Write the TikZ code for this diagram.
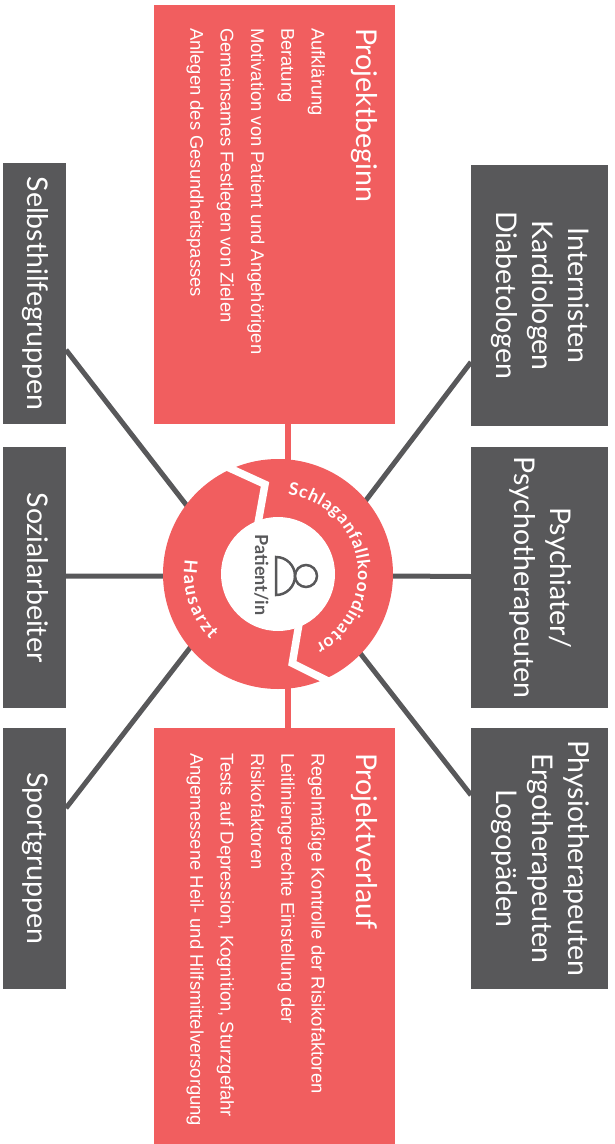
\documentclass[tikz,border=0pt]{standalone}
\usepackage{graphicx}
\usepackage{fontspec}
\setmainfont{Liberation Sans}
\newfontfamily\headfont{Lato}
\usepackage{tikz}
\usetikzlibrary{positioning,calc,backgrounds,decorations.text}
\definecolor{kored}{HTML}{F15E5F}
\definecolor{kogray}{HTML}{58585A}
\tikzstyle{redbox} = [rectangle,fill=kored,text=white,inner sep=0pt,outer sep=0pt,minimum width=241pt]
\tikzstyle{graybox} = [rectangle,fill=kogray,text=white,inner sep=0pt,outer sep=0pt,minimum height=261pt,font=\headfont\fontsize{28.5}{36}\selectfont]
\tikzstyle{link} = [draw=kogray,line width=5pt,shorten >=-3pt]
\tikzstyle{redlink} = [draw=kored,line width=6pt,shorten >=-3pt]
\tikzstyle{gapline} = [draw=white,line width=7.5pt,miter limit=10]
\newcommand{\turned}[1]{\rotatebox[origin=c]{-90}{\begin{tabular}{@{}c@{}}#1\end{tabular}}}
\begin{document}
\begin{tikzpicture}[x=1pt,y=1pt,auto,node distance=20pt]
    \useasboundingbox (0,0) rectangle (614,-1144);
    \node[graybox,minimum width=63pt,anchor=north west] (selbst) at (3,-163) {\turned{Selbsthilfegruppen}};
    \node[graybox,minimum width=63pt] (sozial) [below = 23pt of selbst] {\turned{Sozialarbeiter}};
    \node[graybox,minimum width=63pt] (sport) [below = of sozial] {\turned{Sportgruppen}};
    \node[graybox,minimum width=137pt,anchor=north west] (intern) at (471,-165) {\turned{Internisten\\Kardiologen\\Diabetologen}};
    \node[graybox,minimum width=137pt] (psych) [below = 21pt of intern] {\turned{Psychiater/\\Psychotherapeuten}};
    \node[graybox,minimum width=137pt] (physio) [below = of psych] {\turned{Physiotherapeuten\\Ergotherapeuten\\Logopäden}};
    \node[redbox,minimum height=419pt,anchor=north west] (beginn) at (154,-5) {\rotatebox{-90}{\parbox[c][241pt][t]{419pt}{\raggedright\leftskip=23pt
        \vspace*{17pt}{\headfont\fontsize{28.6}{30}\selectfont Projektbeginn\par}
        \fontsize{18.4}{30.3}\selectfont\vspace{15pt}
        Aufklärung\par Beratung\par Motivation von Patient und Angehörigen\par Gemeinsames Festlegen von Zielen\par Anlegen des Gesundheitspasses}}};
    \node[redbox,minimum height=416pt,anchor=north west] (verlauf) at (154,-728) {\rotatebox{-90}{\parbox[c][241pt][t]{416pt}{\raggedright\leftskip=25pt
        \vspace*{17pt}{\headfont\fontsize{28.6}{30}\selectfont Projektverlauf\par}
        \fontsize{18.4}{30.3}\selectfont\vspace{15pt}
        Regelmäßige Kontrolle der Risikofaktoren\par Leitliniengerechte Einstellung der\par Risikofaktoren\par Tests auf Depression, Kognition, Sturzgefahr\par Angemessene Heil- und Hilfsmittelversorgung}}};
    \node[circle,fill=kored,minimum size=230pt,inner sep=0pt,outer sep=0pt] (hub) at (278,-574) {};
    % gaps between the two ring parts
    \draw[gapline] (225,-466) -- (265,-484.3) -- (257.7,-525);
    \draw[gapline] (331,-682.5) -- (292.3,-663.3) -- (299.3,-622);
    \node[circle,fill=white,minimum size=114pt,inner sep=0pt,outer sep=0pt] (patient) at (hub.center) {};
    \path[decorate,decoration={text along path,text align={fit to path},text={|\headfont\bfseries\fontsize{17.5}{17.5}\selectfont\color{white}|Schlaganfallkoordinator}}] (hub.center) ++(83:80) arc (83:-62:80);
    \path[decorate,decoration={text along path,text align={fit to path},text={|\headfont\bfseries\fontsize{18}{18}\selectfont\color{white}|Hausarzt}}] (hub.center) ++(171:94) arc (171:224:94);
    \node[text=kogray,font=\headfont\bfseries\fontsize{18}{18}\selectfont,inner sep=0pt] (ptext) at (259,-575) {\turned{Patient/in}};
    \draw[kogray,line width=2.5pt] (306,-576) circle (11);
    \draw[kogray,line width=2.5pt] (276,-557) arc (90:-90:19) -- cycle;
    \begin{scope}[on background layer]
        \path [redlink] (beginn.south -| hub.85.5) -- (hub.85.5);
        \path [redlink] (verlauf.north -| hub.-85.5) -- (hub.-85.5);
        \path [link] ($(selbst.north east)!0.716!(selbst.south east)$) -- (hub.143);
        \path [link] ($(sozial.east)+(0,1.5)$) -- (hub.181);
        \path [link] ($(sport.north east)!0.307!(sport.south east)$) -- (hub.220);
        \path [link] ($(intern.north west)!0.755!(intern.south west)$) -- (hub.40);
        \path [link] ($(psych.west)+(0,1)$) -- (hub.-1);
        \path [link] ($(physio.north west)!0.257!(physio.south west)$) -- (hub.-44);
    \end{scope}
\end{tikzpicture}
\end{document}
